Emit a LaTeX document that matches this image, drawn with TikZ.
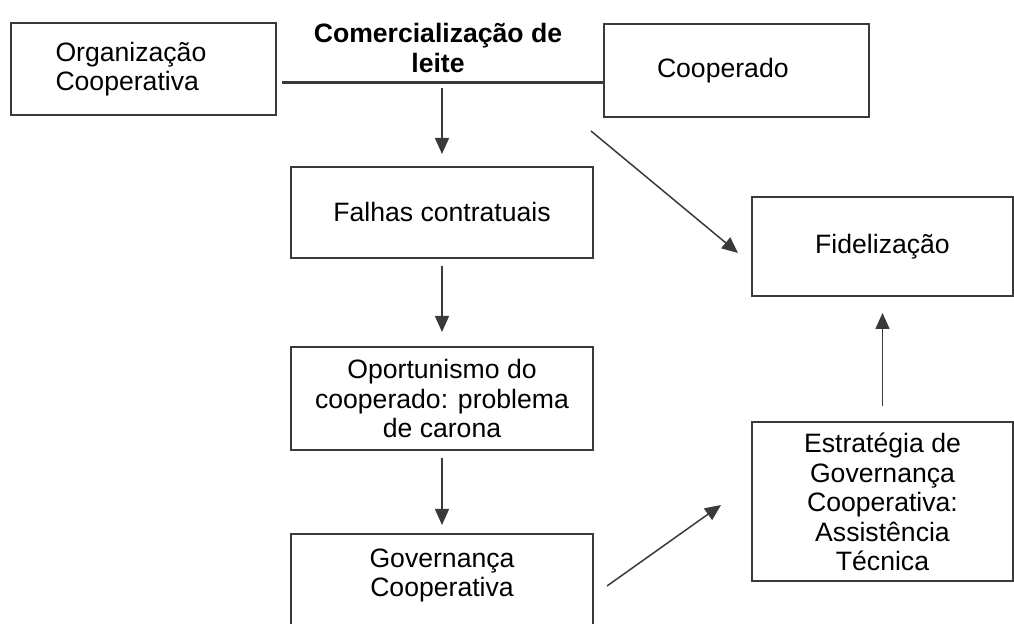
\documentclass[tikz,border=0pt]{standalone}
\usepackage{fontspec}
\setmainfont{Liberation Sans}
\usetikzlibrary{arrows.meta}
\definecolor{linhacor}{HTML}{3A3A3A}
\tikzset{
  caixa/.style={draw=linhacor, line width=1pt, align=center, inner sep=0pt},
  seta/.style={draw=linhacor, line width=0.75pt, -{Triangle[length=8pt,width=7pt]}},
  titulo/.style={font=\fontsize{13.3}{15}\selectfont\bfseries, align=center},
}

\begin{document}
\begin{tikzpicture}[x=0.5pt, y=-0.5pt, font=\fontsize{13.3}{14.7}\selectfont]
			%%%%% START %%%%%
			\useasboundingbox (0,0) rectangle (1014,624);
			
			\node[caixa, minimum width=132.5pt, minimum height=46pt, text width=88pt, align=left] (org) at (143.5,69) {Organização\\Cooperativa};
			\node[titulo] (comerc) at (438,48) {Comercialização de\\leite};
			\node[caixa, minimum width=132.5pt, minimum height=46.5pt, text width=79.5pt, align=left] (coop) at (736.5,70.5) {Cooperado};
			
			\coordinate (linhaE) at (282,83);
			\coordinate (linhaD) at (604,83);
			\draw[linhacor, line width=1.5pt] (linhaE) -- (linhaD);
			
			\node[caixa, minimum width=151pt, minimum height=45.5pt] (falhas) at (442,212.5) {Falhas contratuais};
			\node[caixa, minimum width=151pt, minimum height=51.5pt] (oport) at (442,398.5) {Oportunismo do\\cooperado: problema\\de carona};
			\node[caixa, minimum width=151pt, inner ysep=7.5pt, text depth=30pt, anchor=north] (gov) at (442,533) {Governança\\Cooperativa};
			
			\node[caixa, minimum width=130.5pt, minimum height=49.5pt] (fidel) at (882.5,246.5) {Fidelização};
			\node[caixa, minimum width=130.5pt, minimum height=79.5pt] (estrat) at (882.5,502) {Estratégia de\\Governança\\Cooperativa:\\Assistência\\Técnica};
			
			\draw[seta, shorten <=2.5pt, shorten >=6pt] (falhas.north |- linhaE) -- (falhas.north);
			\draw[seta, shorten <=3.5pt, shorten >=7pt] (falhas) -- (oport);
			\draw[seta, shorten <=3.5pt, shorten >=4pt] (oport) -- (gov);
			\draw[seta] ([xshift=-6pt, yshift=-6.5pt]coop.south west) -- ([xshift=-6.5pt, yshift=-3.25pt]fidel.west);
			\draw[seta] ([xshift=6.5pt, yshift=-26.5pt]gov.north east) -- ([xshift=-15pt, yshift=-1.5pt]estrat.west);
			\draw[seta, shorten <=7.5pt, shorten >=8pt] (estrat) -- (fidel);
			
			%%%%% END %%%%%
\end{tikzpicture}
\end{document}
